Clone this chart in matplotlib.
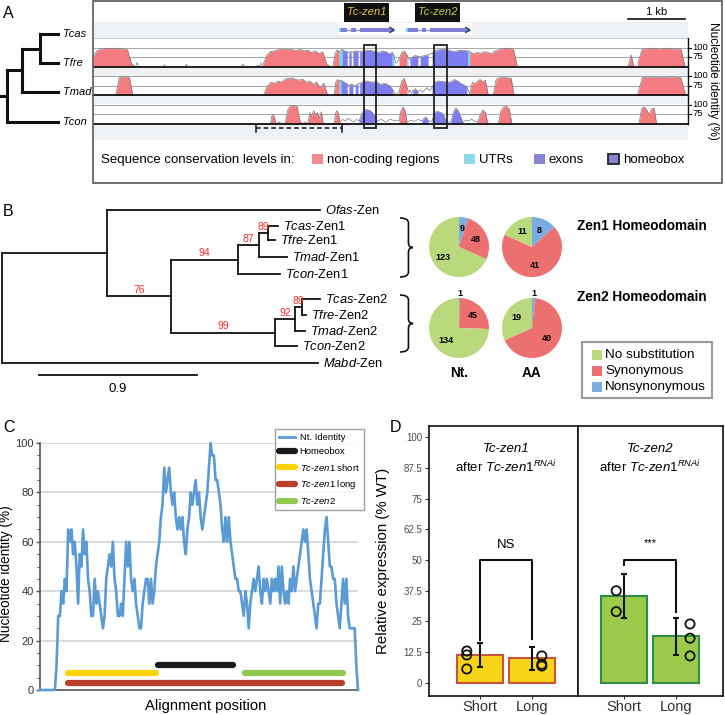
import numpy as np
import matplotlib
matplotlib.use('Agg')
import matplotlib.pyplot as plt
from matplotlib.patches import Rectangle, PathPatch
from matplotlib.path import Path
from matplotlib.lines import Line2D

plt.rcParams['font.family'] = ['Liberation Sans', 'DejaVu Sans']
plt.rcParams['mathtext.fontset'] = 'custom'
plt.rcParams['mathtext.rm'] = 'Liberation Sans'
plt.rcParams['mathtext.it'] = 'Liberation Sans:italic'
plt.rcParams['mathtext.bf'] = 'Liberation Sans:bold'

# ======================= DATA =======================
# ---- Panel A: species cladogram (name, branch length, children, support)
tree_A = ('', 7, [('', 15, [('', 18, [('Tcas', 18, None, None), ('Tfre', 18, None, None)], None),
                            ('Tmad', 36, None, None)], None),
                  ('Tcon', 51, None, None)], None)

# ---- Panel A: VISTA conservation tracks (kb, identity %)
track_names = ['Tfre', 'Tmad', 'Tcon']
tfre_blocks = [
    ('nc', 0.00, 0.74, [75, 92, 97, 98, 98, 99, 98, 98, 97, 95, 60, 50]),
    ('low', 0.75, 0.82, [50, 62, 55, 50]),
    ('low', 1.23, 1.28, [50, 56, 50]),
    ('low', 1.61, 1.67, [50, 57, 50]),
    ('low', 2.26, 2.30, [50, 52, 50]),
    ('low', 2.60, 2.68, [50, 58, 53, 50]),
    ('low', 2.86, 2.98, [50, 55, 52, 60, 50]),
    ('nc', 2.98, 4.16, [55, 80, 90, 92, 95, 96, 97, 96, 95, 93, 96, 92, 94, 88, 92, 85, 90, 60, 50]),
    ('nc', 4.21, 4.32, [50, 85, 95, 90]),
    ('utr', 4.32, 4.37, [90, 96]),
    ('exon', 4.37, 4.46, [96, 92, 90]),
    ('gap', 4.46, 4.49, [90, 88]),
    ('exon', 4.49, 4.53, [88, 90]),
    ('gap', 4.53, 4.56, [90, 89]),
    ('exon', 4.56, 4.65, [89, 92, 91]),
    ('gap', 4.65, 4.68, [91, 90]),
    ('exon', 4.68, 5.25, [90, 92, 93, 94, 92, 90, 88, 92, 90, 85, 88]),
    ('utr', 5.25, 5.28, [88, 80]),
    ('low', 5.28, 5.37, [80, 60, 62, 70]),
    ('nc', 5.37, 5.51, [70, 88, 92, 80]),
    ('utr', 5.51, 5.53, [80, 75]),
    ('gap', 5.53, 5.56, [75, 70]),
    ('exon', 5.56, 5.70, [70, 76, 80, 78]),
    ('gap', 5.70, 5.74, [78, 76]),
    ('exon', 5.74, 5.88, [76, 80, 82]),
    ('gap', 5.88, 5.95, [82, 86]),
    ('exon', 5.95, 6.58, [86, 93, 95, 96, 95, 93, 90, 92, 94, 93, 92]),
    ('utr', 6.58, 6.61, [92, 90]),
    ('nc', 6.61, 7.44, [90, 85, 88, 86, 90, 88, 85, 92, 95, 98, 99, 98, 97, 55]),
    ('low', 9.02, 9.06, [50, 51, 50]),
    ('nc', 9.39, 9.49, [50, 82, 50]),
    ('nc', 9.56, 10.39, [60, 97, 98, 98, 99, 97, 98, 99, 98, 97, 98, 50]),
]
tmad_blocks = [
    ('nc', 0.40, 0.70, [50, 97, 99, 99, 97, 50]),
    ('nc', 3.00, 4.11, [55, 75, 85, 82, 88, 85, 93, 95, 96, 92, 90, 93, 85, 88, 80, 85, 70, 82, 55]),
    ('nc', 4.23, 4.32, [50, 85, 92, 88]),
    ('utr', 4.32, 4.35, [88, 90]),
    ('exon', 4.35, 4.46, [90, 85, 80]),
    ('gap', 4.46, 4.49, [80, 75]),
    ('exon', 4.49, 4.56, [75, 80, 78]),
    ('gap', 4.56, 4.60, [78, 76]),
    ('exon', 4.60, 4.65, [76, 80]),
    ('gap', 4.65, 4.68, [80, 82]),
    ('exon', 4.68, 5.26, [82, 86, 88, 87, 85, 86, 84, 78, 82, 80, 75, 65]),
    ('low', 5.26, 5.37, [65, 55, 52, 60]),
    ('nc', 5.37, 5.51, [60, 88, 95, 70]),
    ('low', 5.51, 5.61, [70, 58, 65, 55, 62]),
    ('exon', 5.61, 5.70, [62, 68, 60]),
    ('low', 5.70, 5.95, [60, 65, 58, 66, 70, 62, 72]),
    ('exon', 5.95, 6.56, [72, 86, 88, 87, 86, 84, 86, 92, 88, 82, 78, 72]),
    ('gap', 6.56, 6.61, [72, 55]),
    ('nc', 6.61, 6.93, [55, 85, 80, 88, 92, 86, 90, 55]),
    ('nc', 7.02, 7.39, [50, 92, 96, 97, 97, 96, 95, 50]),
    ('nc', 9.56, 10.39, [55, 97, 98, 99, 98, 98, 97, 98, 99, 98, 97, 55]),
]
tcon_blocks = [
    ('nc', 3.11, 3.21, [50, 70, 75, 68, 50]),
    ('low', 3.21, 3.35, [50, 55, 52, 50]),
    ('nc', 3.37, 3.67, [50, 85, 97, 99, 98, 95, 60, 50]),
    ('low', 3.67, 3.77, [50, 55, 52]),
    ('nc', 3.77, 4.04, [52, 80, 70, 85, 75, 80, 65, 82, 50]),
    ('low', 4.04, 4.23, [50, 52, 50]),
    ('nc', 4.23, 4.33, [50, 78, 85, 78, 55]),
    ('low', 4.33, 4.67, [55, 62, 58, 65, 60, 55, 62, 58]),
    ('exon', 4.67, 4.98, [58, 75, 85, 88, 87, 85, 80, 70, 58]),
    ('low', 4.98, 5.37, [58, 62, 55, 63, 58, 60]),
    ('nc', 5.37, 5.51, [60, 85, 95, 85, 55]),
    ('low', 5.51, 5.77, [55, 60, 57, 62, 58]),
    ('exon', 5.77, 5.88, [58, 65, 68, 60]),
    ('low', 5.88, 5.95, [60, 57, 58]),
    ('exon', 5.95, 6.19, [58, 80, 83, 82, 80, 75, 58]),
    ('low', 6.19, 6.28, [58, 55, 56]),
    ('exon', 6.28, 6.49, [56, 80, 92, 85, 70, 55]),
    ('low', 6.49, 6.75, [55, 60, 58, 63, 57, 55]),
    ('nc', 6.75, 6.93, [55, 75, 87, 80, 50]),
    ('nc', 7.11, 7.35, [50, 85, 95, 96, 90, 50]),
    ('nc', 9.58, 9.89, [50, 90, 95, 88, 75, 90, 92, 50]),
]
track_blocks = [tfre_blocks, tmad_blocks, tcon_blocks]

gene_names = ['Tc-zen1', 'Tc-zen2']
gene_utr5 = [(4.32, 4.36), (5.49, 5.52)]
gene_utr3 = [(5.24, 5.28), (6.58, 6.61)]
gene_exons = [[(4.36, 4.46), (4.52, 4.61), (4.68, 5.24)],
              [(5.52, 5.71), (5.78, 5.85), (5.91, 6.58)]]
homeobox_kb = [(4.75, 4.96), (5.98, 6.21)]
dashed_region_kb = (2.86, 4.37)
scale_bar_kb = 1.0
track_ticks = [100, 75]

# ---- Panel B: Zen protein tree (name, branch length, children, bootstrap)
tree_B = ('', 0.0, [
    ('', 0.598, [
        ('Ofas-Zen', 1.213, None, None),
        ('', 0.364, [
            ('', 0.382, [
                ('', 0.120, [
                    ('', 0.051, [('Tcas-Zen1', 0.057, None, None), ('Tfre-Zen1', 0.040, None, None)], 89),
                    ('Tmad-Zen1', 0.159, None, None)], 87),
                ('Tcon-Zen1', 0.239, None, None)], 94),
            ('', 0.592, [
                ('', 0.114, [
                    ('', 0.040, [('Tcas-Zen2', 0.103, None, None), ('Tfre-Zen2', 0.023, None, None)], 89),
                    ('Tmad-Zen2', 0.057, None, None)], 92),
                ('Tcon-Zen2', 0.125, None, None)], 99)], 76)], None),
    ('Mabd-Zen', 1.80, None, None)], None)
tree_B_scale = 0.9

pie_categories = ['No substitution', 'Synonymous', 'Nonsynonymous']
zen1_nt = [123, 48, 9]
zen1_aa = [11, 41, 8]
zen2_nt = [134, 45, 1]
zen2_aa = [19, 40, 1]
pie_columns = ['Nt.', 'AA']
pie_rows = ['Zen1 Homeodomain', 'Zen2 Homeodomain']

# ---- Panel C: nucleotide identity along alignment
identity = [0, 0, 0, 0, 0, 0, 0, 0, 0, 0,
            10, 30, 30, 40, 35, 45, 40, 65, 60, 65,
            55, 60, 50, 35, 55, 50, 65, 55, 60, 45,
            40, 30, 30, 45, 35, 40, 35, 30, 25, 30,
            45, 50, 55, 50, 60, 45, 40, 30, 30, 35,
            30, 45, 60, 50, 60, 45, 40, 45, 35, 30,
            25, 25, 35, 40, 45, 45, 35, 45, 35, 40,
            50, 55, 60, 70, 75, 90, 80, 85, 90, 80,
            75, 80, 70, 65, 70, 65, 70, 60, 55, 65,
            70, 80, 75, 80, 85, 75, 80, 70, 65, 70,
            75, 80, 90, 100, 95, 95, 85, 85, 80, 75,
            65, 60, 70, 60, 70, 60, 55, 50, 45, 45,
            40, 40, 35, 30, 40, 35, 25, 35, 40, 45,
            40, 45, 50, 40, 35, 45, 40, 45, 40, 35,
            45, 40, 45, 40, 50, 35, 50, 40, 35, 40,
            35, 45, 40, 50, 40, 45, 50, 55, 60, 65,
            60, 65, 55, 45, 40, 35, 30, 25, 35, 35,
            45, 55, 65, 70, 60, 50, 50, 45, 45, 35,
            30, 25, 35, 45, 35, 45, 30, 25, 25, 25,
            25, 10, 0]
align_step = 4
feature_names = ['Homeobox', 'Tc-zen1 short', 'Tc-zen1 long', 'Tc-zen2']
feature_start = [286, 68, 68, 496]
feature_end = [466, 280, 730, 732]
feature_level = [10, 7, 3, 7]

# ---- Panel D: qPCR
groups = ['Short', 'Long']
zen1_mean = [11.2, 10.0]
zen1_sd = [4.9, 4.7]
zen1_points = [[13.0, 11.4, 5.7], [11.0, 7.6, 6.9]]
zen2_mean = [35.4, 18.9]
zen2_sd = [9.0, 7.5]
zen2_points = [[37.5, 29.0], [24.0, 18.2, 11.0]]
point_jitter = [[-0.25, 0.18], [-0.15, 0.26]]
sig_labels = ['NS', '***']
sig_level = 50
sig_leg_ends = [[17.5, 18.0], [48.0, 29.0]]
d_yticks = [0, 12.5, 25, 37.5, 50, 62.5, 75, 87.5, 100]

# ======================= STYLE =======================
C_NC, C_UTR, C_EXON = '#f47c80', '#5fe0ee', '#7d7cf0'
fill_colors = {'nc': C_NC, 'utr': C_UTR, 'exon': C_EXON}
PIE_COLORS = {'No substitution': '#bad87c', 'Synonymous': '#ed7070', 'Nonsynonymous': '#7aaee2'}

W, H = 725, 715
fig = plt.figure(figsize=(W / 100, H / 100), dpi=100)


def px_axes(x0, y0, x1, y1, **kw):
    return fig.add_axes([x0 / W, 1 - y1 / H, (x1 - x0) / W, (y1 - y0) / H], **kw)


def draw_tree(ax, node, x_parent, leaf_ys, counter, lw, label_fn, support_fn=None):
    name, bl, kids, sup = node
    x = x_parent + bl
    kw = dict(color='#111', lw=lw, solid_capstyle='projecting', clip_on=False)
    if kids is None:
        y = leaf_ys[counter[0]]
        counter[0] += 1
        ax.plot([x_parent, x], [y, y], **kw)
        label_fn(x, y, name)
        return y
    ys = [draw_tree(ax, k, x, leaf_ys, counter, lw, label_fn, support_fn) for k in kids]
    y = (ys[0] + ys[-1]) / 2
    ax.plot([x, x], [ys[0], ys[-1]], **kw)
    if bl > 0:
        ax.plot([x_parent, x], [y, y], **kw)
    if sup is not None and support_fn is not None:
        support_fn((x_parent + x) / 2, y, sup)
    return y


# ---------------- canvas ----------------
cv = fig.add_axes([0, 0, 1, 1], zorder=20)
cv.set_xlim(0, W)
cv.set_ylim(H, 0)
cv.axis('off')
cv.patch.set_alpha(0)

for letter, (lx, ly) in zip('ABCD', [(3, 13), (3, 212), (3, 427), (390, 427)]):
    cv.text(lx, ly, letter, fontsize=11.5, ha='left', va='center')

# ======================= PANEL A =======================
cv.add_patch(Rectangle((93, 1), 629, 182, fill=False, ec='#5a5a5a', lw=1.2))

axTA = px_axes(0, 20, 93, 136)
axTA.set_xlim(0, 93)
axTA.set_ylim(136, 20)
axTA.axis('off')
leafA_y = [34, 63, 92, 122]
draw_tree(axTA, tree_A, 0, leafA_y, [0], 2.2,
          lambda x, y, n: axTA.text(x + 5, y, n, fontsize=8, style='italic', va='center', ha='left'))

axT = px_axes(93, 22, 688, 140)
XMAX = 10.44
axT.set_xlim(0, XMAX)
axT.set_ylim(-192, 118)
axT.set_facecolor('#eef1f4')
for s in axT.spines.values():
    s.set_visible(False)
axT.set_xticks([])
axT.set_yticks([])

bases = [0, -75, -150]
band_tops = [76, 52, 52]
for i, base in enumerate(bases):
    axT.axhspan(base, base + band_tops[i], color='white', zorder=1, lw=0)
    for t in track_ticks:
        axT.axhline(base + (t - 50), color='#a9a9a9', lw=0.8, zorder=2)
    if band_tops[i] > 60:
        axT.axhline(base + band_tops[i], color='#c8c8c8', lw=0.7, zorder=2)
    for kind, x0, x1, vals in track_blocks[i]:
        xs = np.linspace(x0, x1, len(vals))
        ys = base + (np.array(vals, dtype=float) - 50)
        if kind in fill_colors:
            axT.fill_between(xs, base, ys, color=fill_colors[kind], lw=0, zorder=3)
        axT.plot(xs, ys, color='#7a7a7a', lw=0.5, zorder=4)
    axT.axhline(base, color='#111', lw=1.3, zorder=5)
    for t in track_ticks:
        yy = base + (t - 50)
        axT.plot([XMAX, XMAX + 0.06], [yy, yy], color='#111', lw=0.8, clip_on=False)
        axT.text(XMAX + 0.07, yy + 2, str(t), fontsize=6.8, ha='left', va='center', clip_on=False)
axT.plot([XMAX, XMAX], [bases[-1], bases[0] + band_tops[0]], color='#111', lw=1.0, clip_on=False, zorder=6)

GY = 97
g0 = min(u[0] for u in gene_utr5)
g1 = max(u[1] for u in gene_utr3)
axT.add_patch(Rectangle((g0 - 0.02, 84), g1 - g0 + 0.06, 32, color='white', lw=0, zorder=1.5))
for gi in range(2):
    s, e = gene_utr5[gi][0], gene_utr3[gi][1]
    axT.plot([s, e], [GY, GY], color='#9090dd', lw=1.0, zorder=3)
    for (a, b) in [gene_utr5[gi], gene_utr3[gi]]:
        axT.add_patch(Rectangle((a, GY - 4), b - a, 8, color=C_UTR, lw=0, zorder=3))
    for (a, b) in gene_exons[gi]:
        axT.add_patch(Rectangle((a, GY - 6.5), b - a, 13, color='#7f7ed8', lw=0, zorder=4))
    axT.plot([e - 0.07, e, e - 0.07], [GY + 7, GY, GY - 7], color='#333', lw=0.9, zorder=5)
    cx = (s + e) / 2
    axT.add_patch(Rectangle((cx - 0.395, 118.4), 0.79, 50, color='#111', lw=0, clip_on=False, zorder=5))
    axT.text(cx, 143.4, gene_names[gi], style='italic', fontsize=8,
             color=['#e8c43a', '#b9d63e'][gi], ha='center', va='center', clip_on=False, zorder=6)

for (a, b) in homeobox_kb:
    axT.add_patch(Rectangle((a, -160.5), b - a, 218.4, fill=False, ec='#222', lw=1.3, zorder=7))
d0, d1 = dashed_region_kb
axT.plot([d0, d1], [-160.5, -160.5], color='#111', lw=1.1, dashes=(3, 2), zorder=7)
for d in (d0, d1):
    axT.plot([d, d], [-152, -170], color='#111', lw=1.1, zorder=7, clip_on=False)
sb1 = 10.39
axT.plot([sb1 - scale_bar_kb, sb1], [126, 126], color='#111', lw=1.2, clip_on=False)
axT.text(sb1 - scale_bar_kb / 2, 145, '1 kb', fontsize=8, ha='center', va='center', clip_on=False)

cv.text(713, 81, 'Nucleotide identity (%)', rotation=-90, fontsize=8.5, ha='center', va='center')

cv.text(101, 160, 'Sequence conservation levels in:', fontsize=9.5, ha='left', va='center')
leg_items = [(312, '#f28b8f', 'non-coding regions', False), (464, '#8fd9ee', 'UTRs', False),
             (534, '#8884d4', 'exons', False), (608, '#8884d4', 'homeobox', True)]
for x, c, lab, outl in leg_items:
    cv.add_patch(Rectangle((x, 154), 11, 10, fc=c, ec='#222' if outl else c, lw=1.3 if outl else 0))
    cv.text(x + 15, 160, lab, fontsize=9.5, ha='left', va='center')

# ======================= PANEL B =======================
U = 175.6  # px per substitution unit
axB = px_axes(0, 200, 340, 400)
axB.set_xlim(-2 / U, 338 / U)
axB.set_ylim(400, 200)
axB.axis('off')
leafB_y = [210, 226, 240, 257, 274, 299, 315, 331, 346, 363]


def leafB(x, y, n):
    a, b = n.split('-')
    axB.text(x + 5 / U, y, r'$\mathit{%s}$-%s' % (a, b), fontsize=9.3, ha='left', va='center')


def supB(x, y, s):
    axB.text(x, y - 1.5, str(s), fontsize=7.5, color='#ff2b2b', ha='center', va='bottom')


draw_tree(axB, tree_B, 0, leafB_y, [0], 1.3, leafB, supB)
sx0 = 37 / U
axB.plot([sx0, sx0 + tree_B_scale], [375, 375], color='#111', lw=1.3)
axB.text(sx0 + tree_B_scale / 2, 389, str(tree_B_scale), fontsize=9.5, ha='center', va='center')


def brace(x, y0, y1, w=13, r=5):
    xs = x + 0.65 * w
    ym = (y0 + y1) / 2
    verts = [(x, y0), (xs, y0), (xs, y0 + r), (xs, ym - r), (xs, ym), (x + w, ym),
             (xs, ym), (xs, ym + r), (xs, y1 - r), (xs, y1), (x, y1)]
    codes = [Path.MOVETO, Path.CURVE3, Path.CURVE3, Path.LINETO, Path.CURVE3, Path.CURVE3,
             Path.CURVE3, Path.CURVE3, Path.LINETO, Path.CURVE3, Path.CURVE3]
    cv.add_patch(PathPatch(Path(verts, codes), fill=False, ec='#111', lw=1.2))


brace(400, 218, 277)
brace(400, 295, 352)

pie_centers = [[(459, 247), (532, 247)], [(459, 328), (532, 328)]]
pie_data = [[zen1_nt, zen1_aa], [zen2_nt, zen2_aa]]
R = 30
order = ['Nonsynonymous', 'Synonymous', 'No substitution']
for ri in range(2):
    for ci in range(2):
        cx, cy = pie_centers[ri][ci]
        axp = px_axes(cx - 31, cy - 31, cx + 31, cy + 31)
        vals = dict(zip(pie_categories, pie_data[ri][ci]))
        v = [vals[k] for k in order]
        axp.pie(v, colors=[PIE_COLORS[k] for k in order], startangle=90, counterclock=False,
                radius=R / 31, wedgeprops=dict(lw=0))
        axp.set_xlim(-1, 1)
        axp.set_ylim(-1, 1)
        tot = sum(v)
        th = 90.0
        for val in v:
            span = val / tot * 360
            mid = np.deg2rad(th - span / 2)
            rr = (0.62 if val / tot > 0.02 else 1.15) * R / 31
            axp.text(rr * np.cos(mid), rr * np.sin(mid), str(val), fontsize=6.5, fontweight='bold',
                     ha='center', va='center', clip_on=False)
            th -= span
for ci, lab in enumerate(pie_columns):
    cv.text(pie_centers[1][ci][0], 373, lab, fontsize=9.8, fontweight='bold', ha='center', va='center')
for ri, lab in enumerate(pie_rows):
    cv.text(577, [226, 297][ri], lab, fontsize=9.8, fontweight='bold', ha='left', va='center')

cv.add_patch(Rectangle((582, 342), 130, 56, fill=False, ec='#9a9a9a', lw=1.5))
for k, cat in enumerate(pie_categories):
    yy = 355 + 16 * k
    cv.add_patch(Rectangle((592, yy - 5), 10, 10, color=PIE_COLORS[cat], lw=0))
    cv.text(605, yy, cat, fontsize=9.7, ha='left', va='center')

# ======================= PANEL C =======================
axC = px_axes(40, 443, 358, 690)
pos = np.arange(len(identity)) * align_step
axC.set_xlim(0, pos[-1])
axC.set_ylim(0, 100)
axC.set_yticks([0, 20, 40, 60, 80, 100])
axC.set_yticks(np.arange(0, 101, 5), minor=True)
axC.set_xticks([])
axC.tick_params(axis='y', which='major', length=3, width=1, color='#555', labelsize=8, pad=1.5,
                labelcolor='#333')
axC.tick_params(axis='y', which='minor', length=2, width=0.8, color='#555')
for yv in [20, 40, 60, 80, 100]:
    axC.axhline(yv, color='#d9d9d9', lw=1.4, zorder=0)
for s in ['top', 'right']:
    axC.spines[s].set_visible(False)
for s in ['left', 'bottom']:
    axC.spines[s].set_color('#555')
    axC.spines[s].set_linewidth(1.2)
blue = '#5b9bd5'
axC.plot(pos, identity, color=blue, lw=1.9, zorder=3, clip_on=False)
feat_colors = ['#1a1a1a', '#ffd200', '#b8402a', '#92c850']
for n, s, e, lv, c in zip(feature_names, feature_start, feature_end, feature_level, feat_colors):
    axC.plot([s, e], [lv, lv], color=c, lw=4.5, solid_capstyle='round', zorder=4)
axC.set_ylabel('Nucleotide identity (%)', fontsize=9.8)
axC.yaxis.set_label_coords(-0.086, 0.47)
axC.set_xlabel('Alignment position', fontsize=10.6)
axC.xaxis.set_label_coords(0.52, -0.036)
handles = [Line2D([], [], color=blue, lw=2)]
labels = ['Nt. Identity']
for idx in [0, 1, 2, 3]:
    handles.append(Line2D([], [], color=feat_colors[idx], lw=4.5, solid_capstyle='round'))
lab_map = {'Homeobox': 'Homeobox', 'Tc-zen1 short': r'$\mathit{Tc}$-$\mathit{zen1}$ short',
           'Tc-zen1 long': r'$\mathit{Tc}$-$\mathit{zen1}$ long', 'Tc-zen2': r'$\mathit{Tc}$-$\mathit{zen2}$'}
labels += [lab_map[n] for n in feature_names]
leg = axC.legend(handles, labels, loc='upper right', bbox_to_anchor=(364 / W, 1 - 429 / H),
                 bbox_transform=fig.transFigure, fontsize=6.8, frameon=True, fancybox=False,
                 edgecolor='#8a8a8a', borderpad=0.45, labelspacing=0.55, handlelength=1.7,
                 handletextpad=0.5, borderaxespad=0)
leg.get_frame().set_linewidth(1.0)

# ======================= PANEL D =======================
axD1 = px_axes(429, 426, 578, 696)
axD2 = px_axes(578, 426, 723, 696)
panels = [(axD1, zen1_mean, zen1_sd, zen1_points, '#f7d417', '#c8553a', (0.03, 2.87), 'Tc-zen1'),
          (axD2, zen2_mean, zen2_sd, zen2_points, '#9ccb4c', '#2f8f46', (0.12, 2.89), 'Tc-zen2')]
xg = np.array([1, 2])
for pi, (ax, mean, sd, pts, fc, ec, xl, gname) in enumerate(panels):
    ax.set_xlim(*xl)
    ax.set_ylim(-5.3, 104.5)
    ax.bar(xg, mean, width=0.88, color=fc, edgecolor=ec, lw=1.5, zorder=2)
    ax.errorbar(xg, mean, yerr=sd, fmt='none', ecolor='#111', elinewidth=1.5, capsize=2.5,
                capthick=1.5, zorder=3)
    for gi in range(2):
        ax.scatter([xg[gi] + point_jitter[pi][gi]] * len(pts[gi]), pts[gi], s=44, facecolors='none',
                   edgecolors='#111', linewidths=1.3, zorder=4)
    l0, l1 = sig_leg_ends[pi]
    ax.plot([1, 1, 2, 2], [l0, sig_level, sig_level, l1], color='#111', lw=1.5, zorder=3)
    ax.text(1.5, sig_level + (6 if pi == 0 else 7), sig_labels[pi], ha='center', va='center',
            fontsize=9.5 if pi == 0 else 8)
    ax.text(1.5, 95, gname, style='italic', fontsize=9.5, ha='center', va='center')
    ax.text(1.5, 88, r'after $\mathit{Tc}$-$\mathit{zen1}^{\mathit{RNAi}}$', fontsize=9.5,
            ha='center', va='center')
    ax.set_xticks(xg)
    ax.set_xticklabels(groups, fontsize=10.5, color='#333')
    ax.tick_params(axis='x', length=2, color='#333', pad=1)
    for s in ax.spines.values():
        s.set_color('#111')
        s.set_linewidth(1.2)
axD1.set_yticks(d_yticks)
axD1.set_yticklabels([('%g' % t) for t in d_yticks], fontsize=7, color='#4d4d4d')
axD1.tick_params(axis='y', length=3, color='#333', pad=2)
axD1.set_ylabel('Relative expression (% WT)', fontsize=10.8)
axD1.yaxis.set_label_coords(-0.262, 0.5)
axD2.set_yticks([])

fig.savefig('out.png', dpi=100)
